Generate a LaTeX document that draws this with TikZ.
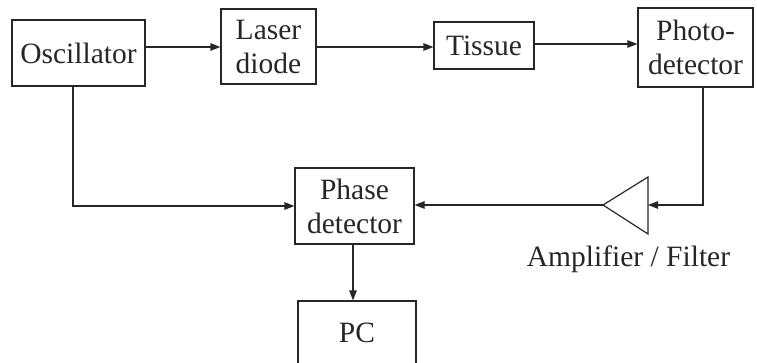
\documentclass[tikz,border=0pt]{standalone}
\usepackage{fontspec}
\setmainfont{Liberation Serif}
\usetikzlibrary{arrows.meta}
\definecolor{ink}{HTML}{262626}
\tikzset{
  blk/.style={draw=ink, line width=1.2pt, text=ink, align=center, inner sep=0pt,
    font=\fontsize{29.5}{34}\selectfont},
  conn/.style={draw=ink, line width=1.2pt, -{Triangle[length=10pt,width=7.5pt]}},
  lbl/.style={text=ink, inner sep=0pt, font=\fontsize{29.5}{34}\selectfont}
}
\begin{document}
\begin{tikzpicture}[x=1pt,y=-1pt]
\useasboundingbox (0,0) rectangle (757,363);
\clip (0,0) rectangle (757,363);
\node[blk, minimum width=133pt, minimum height=66pt] (osc) at (78.5,53) {Oscillator};
\node[blk, minimum width=95pt, minimum height=75pt] (laser) at (268.5,46.5) {Laser\\diode};
\node[blk, minimum width=100pt, minimum height=47pt] (tissue) at (484,45.5) {Tissue};
\node[blk, minimum width=115pt, minimum height=79pt] (photo) at (695.5,47.5) {Photo-\\detector};
\node[blk, minimum width=119pt, minimum height=76pt] (phase) at (354.5,206) {Phase\\detector};
\node[blk, minimum width=118pt, minimum height=70pt] (pc) at (357,336) {};
\node[lbl] (pctext) at (357,333) {PC};
% amplifier triangle
\coordinate (ampout) at (603,205);
\coordinate (ampin) at (648,205);
\draw[ink, line width=1.2pt, line join=miter] (ampout) -- (648,177) -- (648,234) -- cycle;
\node[lbl] (amplbl) at (628.5,259) {Amplifier / Filter};
% connectors
\draw[conn] (osc.east |- 0,47) -- (laser.west |- 0,47);
\draw[conn] (laser.east |- 0,47) -- (tissue.west |- 0,47);
\draw[conn] (tissue.east |- 0,44) -- (photo.west |- 0,44);
\draw[conn] (photo.south -| 703,0) |- (ampin);
\draw[conn] (ampout) -- (phase.east |- ampout);
\draw[conn] (osc.south -| 73,0) |- (phase.west |- 0,206);
\draw[conn] (phase.south -| 353,0) -- (pc.north -| 353,0);
\end{tikzpicture}
\end{document}
